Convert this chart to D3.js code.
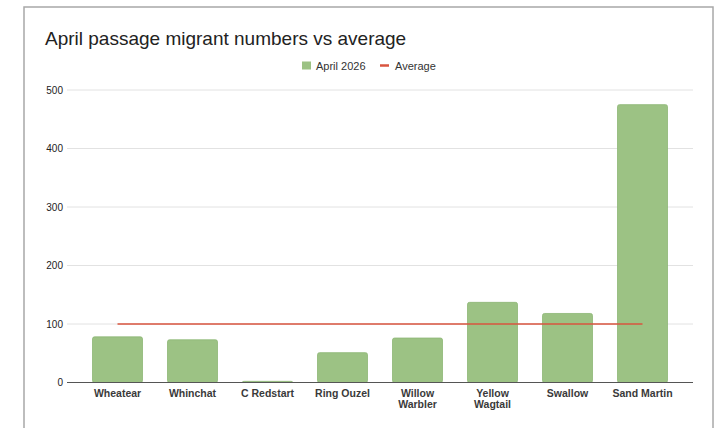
<!DOCTYPE html>
<html>
<head>
<meta charset="utf-8">
<script src="https://cdn.jsdelivr.net/npm/d3@7"></script>
<style>
  body { margin: 0; background: #fff; }
  text { font-family: "Liberation Sans", Arial, sans-serif; }
</style>
</head>
<body>
<script>
const species = ["Wheatear", "Whinchat", "C Redstart", "Ring Ouzel", "Willow Warbler", "Yellow Wagtail", "Swallow", "Sand Martin"]
const april2026 = [78, 73, 2, 51, 76, 137, 118, 475]
const average = [100, 100, 100, 100, 100, 100, 100, 100]
const yTicks = [0, 100, 200, 300, 400, 500]

const width = 720, height = 428

const svg = d3.select("body").append("svg")
  .attr("width", width)
  .attr("height", height)

// frame of the screenshot
svg.append("rect")
  .attr("x", 24).attr("y", 7)
  .attr("width", 689).attr("height", 440)
  .attr("fill", "none")
  .attr("stroke", "#a8a8a8")
  .attr("stroke-width", 1.5)

svg.append("text")
  .attr("x", 45).attr("y", 45)
  .attr("font-size", 19)
  .attr("fill", "#222")
  .text("April passage migrant numbers vs average")

var x = d3.scaleBand()
  .domain(species)
  .range([67, 693])
  .paddingInner(1 / 3)
  .paddingOuter(0.34)

var y = d3.scaleLinear()
  .domain([0, 500])
  .range([382.5, 90])

// grid
svg.append("g").selectAll("line")
  .data(yTicks.filter(d => d > 0)).enter()
  .append("line")
  .attr("x1", 67).attr("x2", 693)
  .attr("y1", d => y(d)).attr("y2", d => y(d))
  .attr("stroke", "#e2e2e2")
  .attr("stroke-width", 1)

var yAxis = svg.append("g")
  .attr("transform", "translate(63,0)")
  .call(d3.axisLeft(y).tickValues(yTicks).tickSize(0).tickPadding(0))
yAxis.select(".domain").remove()
yAxis.selectAll("text")
  .attr("font-size", 10)
  .attr("fill", "#222")
  .attr("font-family", "Liberation Sans, Arial, sans-serif")

// bars
svg.append("g").selectAll("rect")
  .data(april2026).enter()
  .append("rect")
  .attr("x", (d, i) => x(species[i]))
  .attr("width", x.bandwidth())
  .attr("y", d => y(d))
  .attr("height", d => y(0) - y(d))
  .attr("rx", 2)
  .attr("fill", "#9cc284")
  .attr("stroke", "#8db675")
  .attr("stroke-width", 0.8)

// baseline
svg.append("line")
  .attr("x1", 67).attr("x2", 693)
  .attr("y1", y(0)).attr("y2", y(0))
  .attr("stroke", "#555")
  .attr("stroke-width", 1.2)

// average line
var line = d3.line()
  .x((d, i) => x(species[i]) + x.bandwidth() / 2)
  .y(d => y(d))

svg.append("path")
  .datum(average)
  .attr("d", line)
  .attr("fill", "none")
  .attr("stroke", "#d9553f")
  .attr("stroke-width", 1.6)

// x labels
var xAxis = svg.append("g")
  .attr("transform", "translate(0," + y(0) + ")")
  .call(d3.axisBottom(x).tickSize(0).tickPadding(0))
xAxis.select(".domain").remove()
xAxis.selectAll("text").remove()
xAxis.selectAll(".tick").each(function (d) {
  var words = d.split(" ")
  var lines = (d === "C Redstart" || d === "Ring Ouzel" || d === "Sand Martin") ? [d] : words
  var t = d3.select(this).append("text")
    .attr("text-anchor", "middle")
    .attr("font-size", 10.5)
    .attr("font-weight", "bold")
    .attr("fill", "#3a3a3a")
  lines.forEach(function (w, k) {
    t.append("tspan").attr("x", 0).attr("y", 14 + k * 11.5).text(w)
  })
})

// legend
var lg = svg.append("g")
lg.append("rect")
  .attr("x", 302).attr("y", 61.5)
  .attr("width", 9).attr("height", 8)
  .attr("fill", "#9cc284")
lg.append("text")
  .attr("x", 316).attr("y", 69.5)
  .attr("font-size", 11).attr("fill", "#333")
  .text("April 2026")
lg.append("line")
  .attr("x1", 380).attr("x2", 389)
  .attr("y1", 65.5).attr("y2", 65.5)
  .attr("stroke", "#d9553f").attr("stroke-width", 2.5)
lg.append("text")
  .attr("x", 395).attr("y", 69.5)
  .attr("font-size", 11).attr("fill", "#333")
  .text("Average")
</script>
</body>
</html>
